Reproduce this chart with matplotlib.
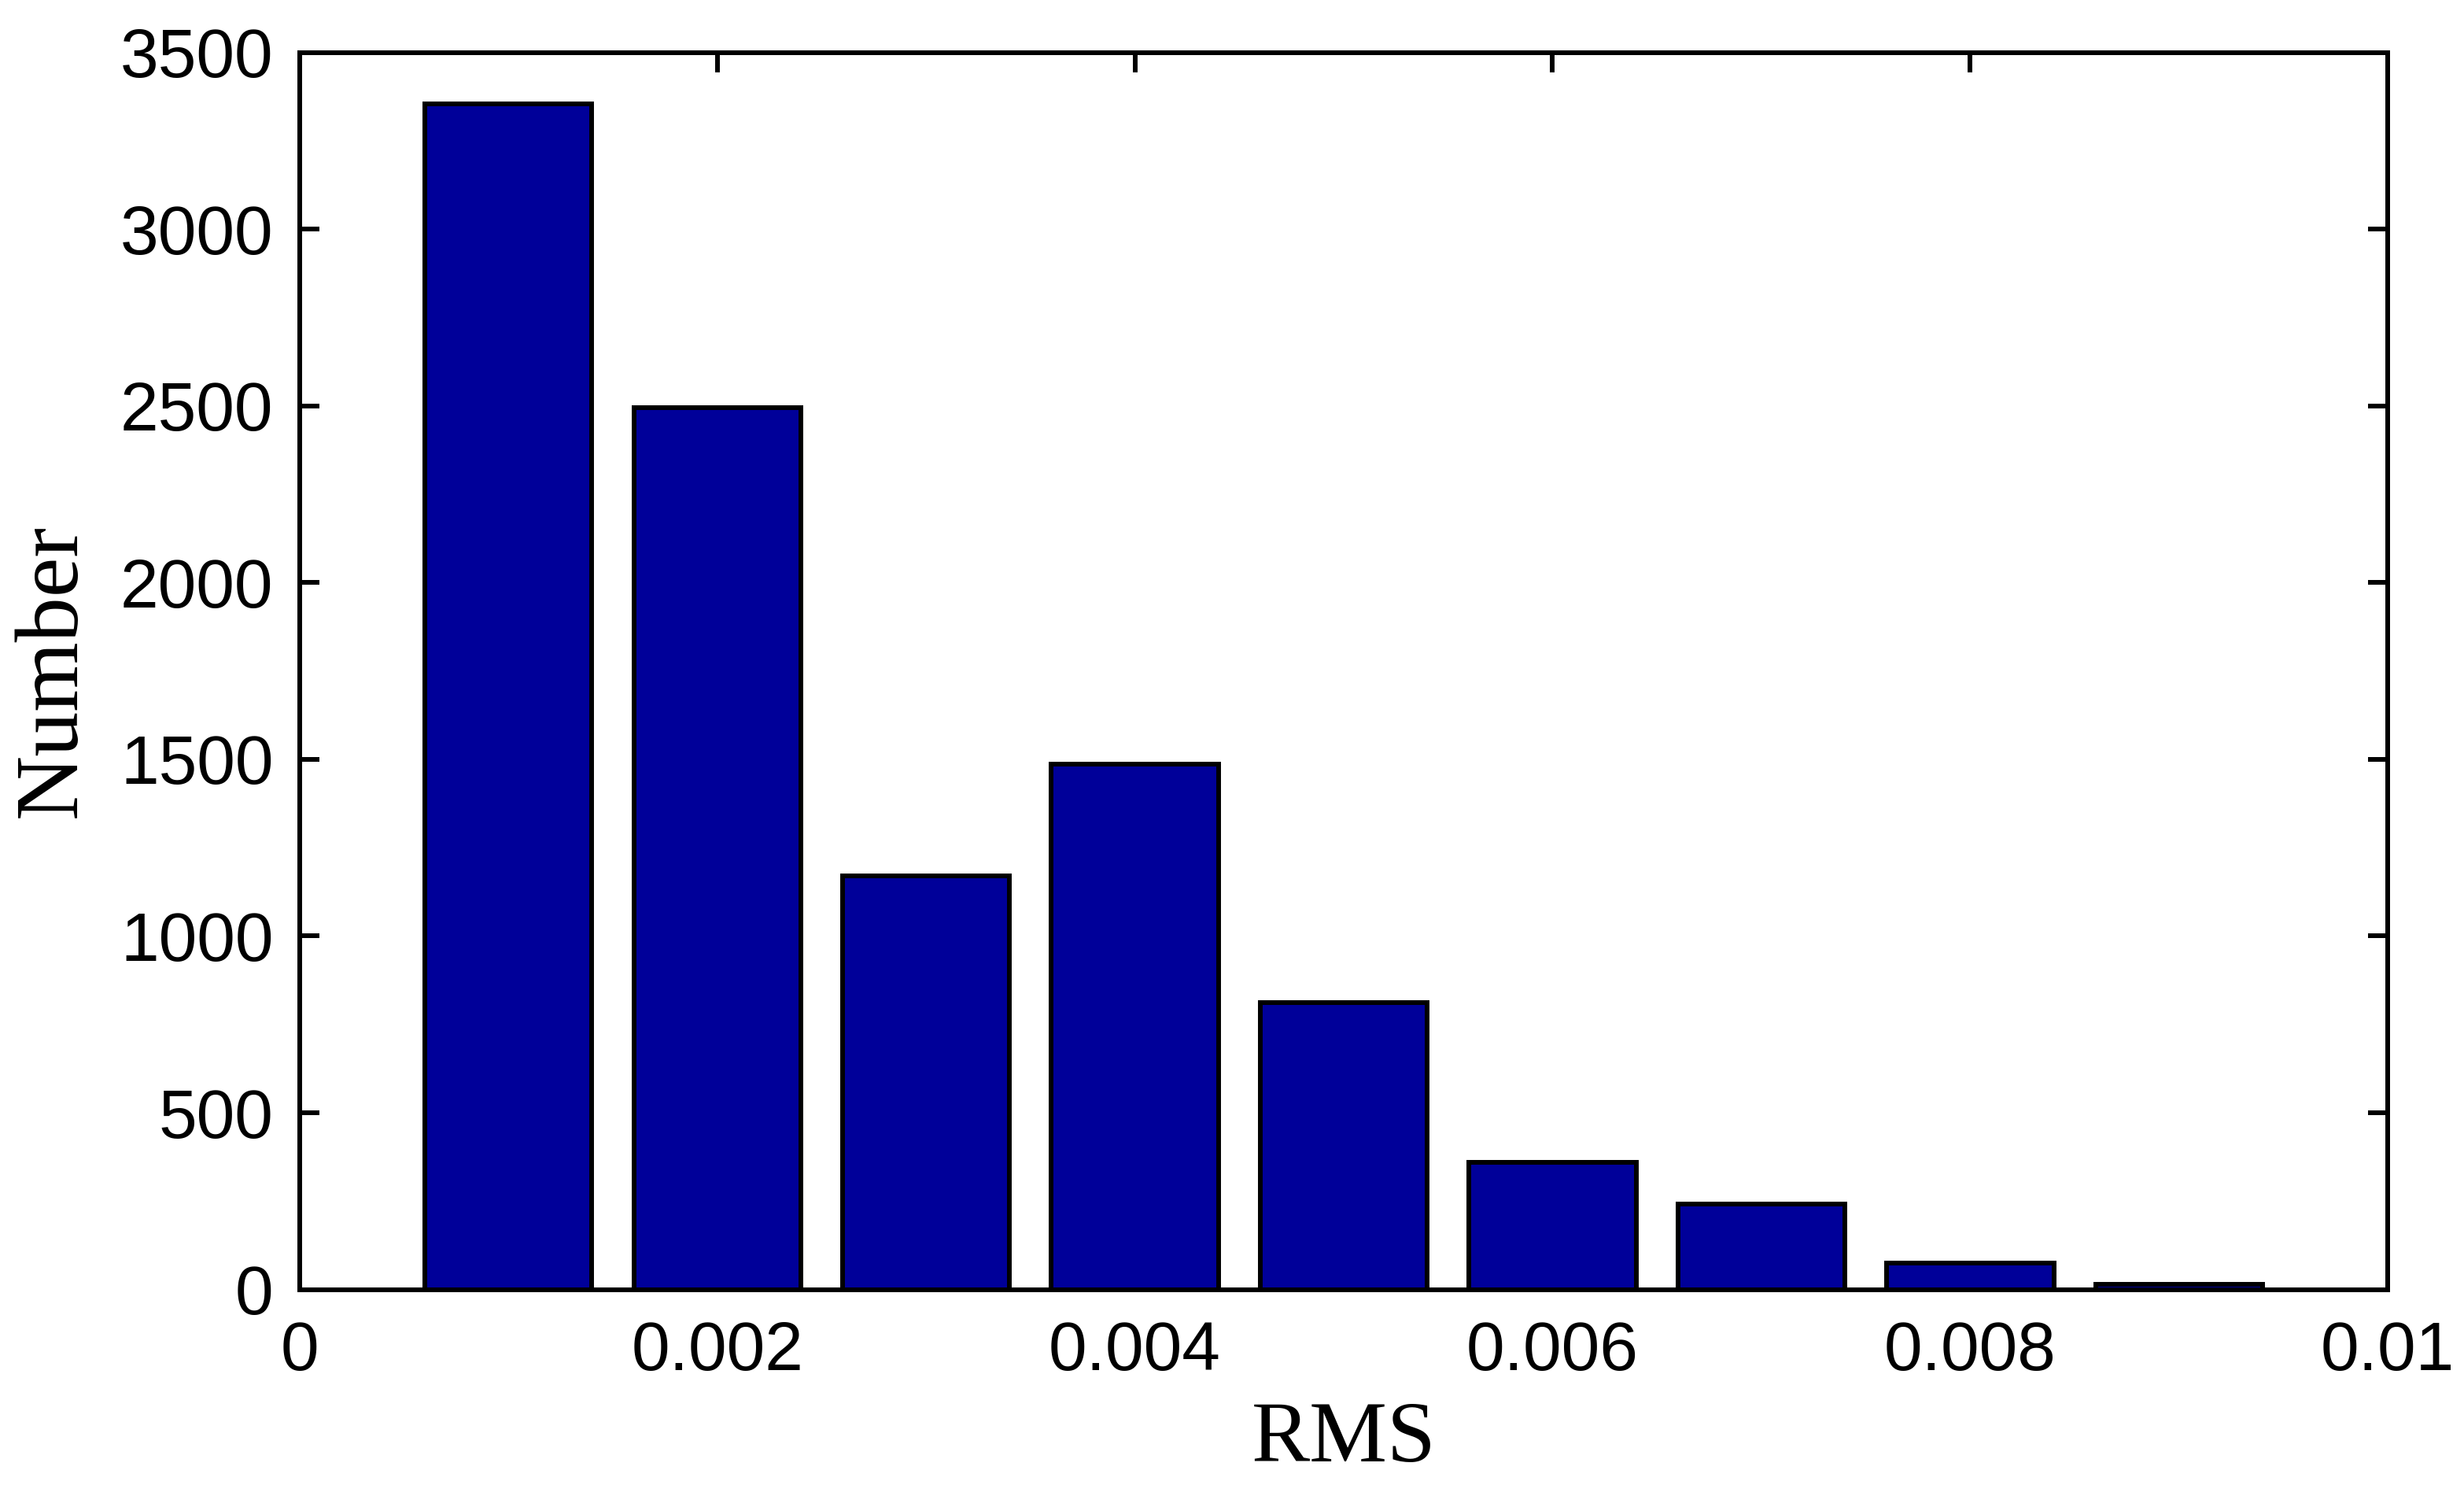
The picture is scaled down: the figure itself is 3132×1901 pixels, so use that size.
import matplotlib
matplotlib.use('Agg')
import matplotlib.pyplot as plt
import numpy as np

plt.rcParams['font.family'] = ['Liberation Sans Narrow', 'Liberation Sans', 'DejaVu Sans']

# histogram data (bin centres and counts)
rms_centres = [0.001, 0.002, 0.003, 0.004, 0.005, 0.006, 0.007, 0.008, 0.009]
counts = [3355, 2495, 1171, 1487, 812, 361, 241, 75, 15]
bar_width = 0.0008

xticks = [0, 0.002, 0.004, 0.006, 0.008, 0.01]
xtick_labels = ['0', '0.002', '0.004', '0.006', '0.008', '0.01']
yticks = [0, 500, 1000, 1500, 2000, 2500, 3000, 3500]

fig = plt.figure(figsize=(31.32, 19.01), dpi=100)
ax = fig.add_axes([0.1216, 0.138, 0.8475, 0.827])

ax.bar(rms_centres, counts, width=bar_width, color='#000099',
       edgecolor='black', linewidth=4.3, zorder=2)

ax.set_xlim(0, 0.01)
ax.set_ylim(0, 3500)
ax.set_xticks(xticks)
ax.set_xticklabels(xtick_labels)
ax.set_yticks(yticks)

for s in ax.spines.values():
    s.set_linewidth(4.3)
    s.set_zorder(3)
ax.tick_params(direction='in', length=18, width=4.3, labelsize=63,
               top=True, right=True, pad=24)
ax.tick_params(axis='x', pad=28)

ax.set_xlabel('RMS', fontsize=80, family='Liberation Serif', labelpad=16)
ax.set_ylabel('Number', fontsize=82, family='Liberation Serif', labelpad=24)

fig.savefig('out.png', dpi=100, facecolor='white')
